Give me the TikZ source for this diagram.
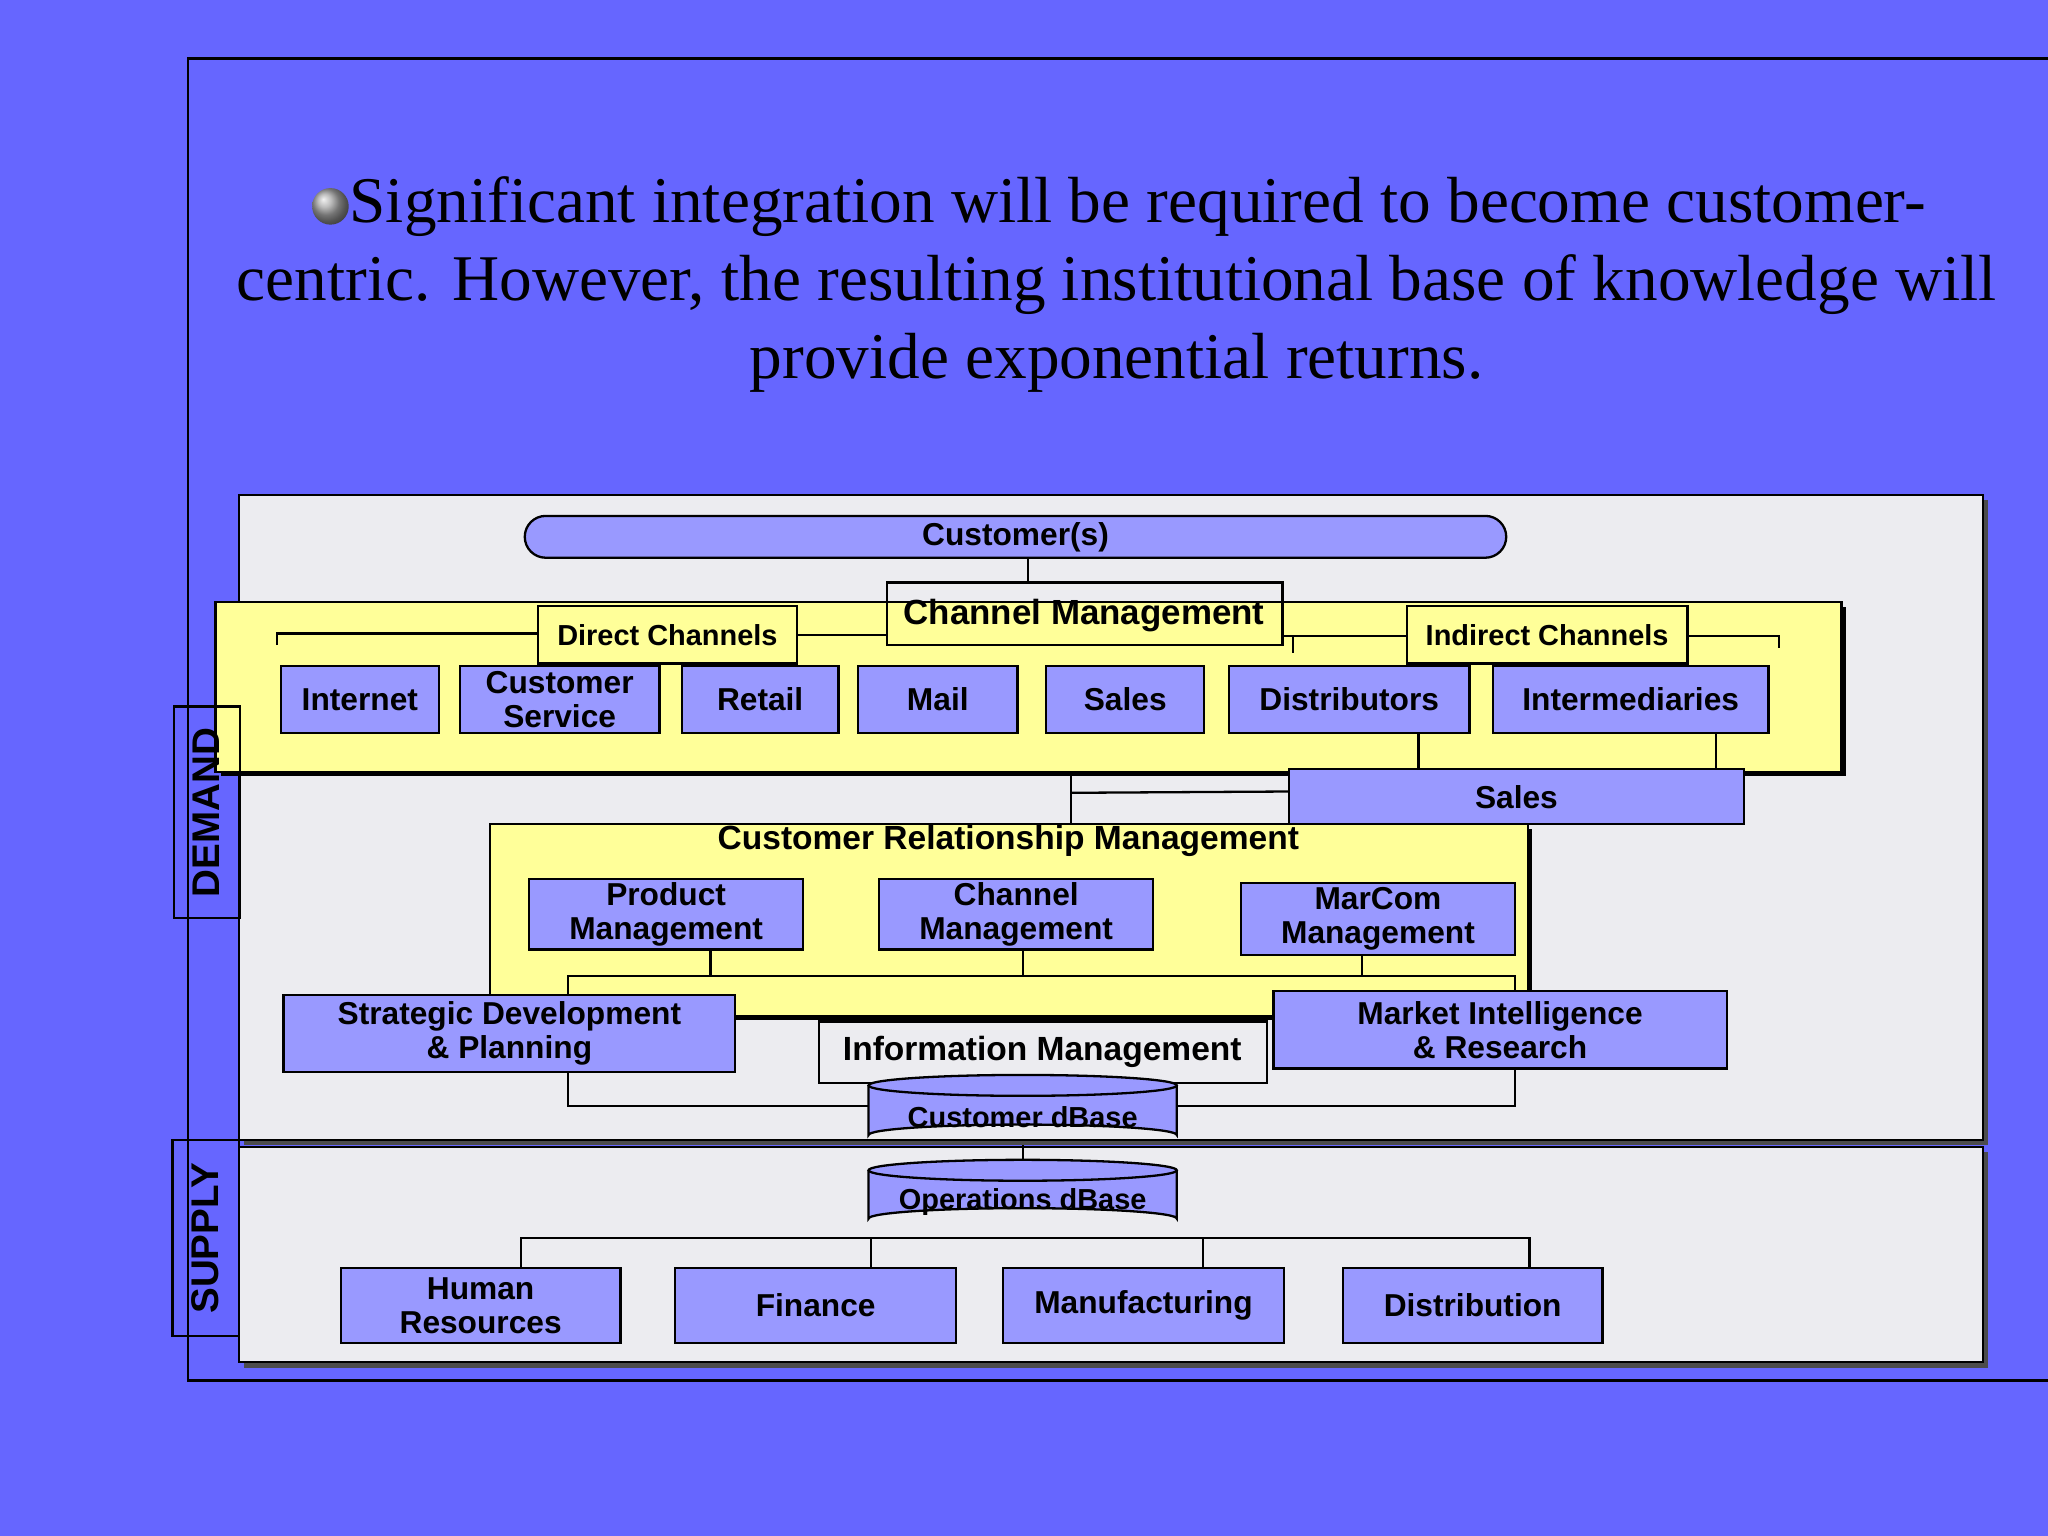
\documentclass[tikz,border=0pt]{standalone}
\usepackage{fontspec}
\setmainfont{Liberation Serif}
\newfontfamily\arial{Liberation Sans}
\definecolor{bg}{HTML}{6666FF}
\definecolor{panel}{HTML}{ECECF0}
\definecolor{yel}{HTML}{FFFF99}
\definecolor{bx}{HTML}{9999FF}
\newcommand\mybox[7]{\node[#1, minimum width={(#4-#2)*0.01cm}, minimum height={(#5-#3)*0.01cm}] (#6) at ({(#2+#4)/2},{(#3+#5)/2}) {#7};}
\begin{document}
\begin{tikzpicture}[x=0.01cm,y=-0.01cm,
  base/.style={draw=black,line width=0.5pt,inner sep=0pt,outer sep=0pt,align=center,font=\arial\bfseries\fontsize{6.9}{7.4}\selectfont},
  bb/.style={base,fill=bx},
  yb/.style={base,fill=yel},
  sm/.style={font=\arial\bfseries\fontsize{6.3}{7}\selectfont},
  tt/.style={font=\fontsize{14.2}{17}\selectfont},
  ln/.style={line width=0.5pt}]
\useasboundingbox (0,0) rectangle (1568,1176);
\fill[bg] (0,0) rectangle (1568,1176);
\draw[line width=0.6pt] (1568,45) -- (144,45) -- (144,1057) -- (1568,1057);
% title
\shade[ball color=gray!70] (253,158) circle (14);
\node[tt,anchor=west,inner sep=0pt] (t1) at (267,158) {Significant integration will be required to become customer-};
\node[tt] (t2) at (855,218) {centric. However, the resulting institutional base of knowledge will};
\node[tt] (t3) at (855,278) {provide exponential returns.};
% panels
\fill[gray!60!black] (187,383) rectangle (1522,877);
\mybox{base,fill=panel}{183}{379}{1518}{873}{dem}{}
\fill[gray!60!black] (187,882) rectangle (1522,1047);
\mybox{base,fill=panel}{183}{878}{1518}{1043}{sup}{}
% customer
\node[bb,rounded corners=16*0.01cm,minimum width=7.51cm,minimum height=0.32cm] (cust) at (777.5,411) {Customer(s)};
% yellow band
\fill[black] (169,465) rectangle (1413,594);
\mybox{yb}{165}{461}{1410}{591}{band}{}
\mybox{base}{679}{446}{982}{494}{chm}{}
\node[base,draw=none,font=\arial\bfseries\fontsize{7.6}{9}\selectfont] at (830,471) {Channel Management};
\draw[ln] (787,427) -- (787,446);
\mybox{yb,sm}{412}{464}{610}{508}{dc}{Direct Channels}
\mybox{yb,sm}{1077}{464}{1292}{508}{ic}{Indirect Channels}
\draw[ln] (212,494) -- (212,485) -- (dc.west|-0,485);
\draw[ln] (dc.east|-0,486) -- (679,486);
\draw[ln] (982,487) -- (ic.west|-0,487);
\draw[ln] (990,487) -- (990,500);
\draw[ln] (ic.east|-0,487) -- (1362,487) -- (1362,496);
\mybox{bb}{215}{510}{336}{561}{inet}{Internet}
\mybox{bb}{352}{510}{505}{561}{cs}{Customer\\Service}
\mybox{bb}{522}{510}{642}{561}{ret}{Retail}
\mybox{bb}{657}{510}{779}{561}{mail}{Mail}
\mybox{bb}{801}{510}{922}{561}{sal}{Sales}
\mybox{bb}{941}{510}{1125}{561}{dist}{Distributors}
\mybox{bb}{1143}{510}{1354}{561}{inter}{Intermediaries}
\mybox{bb}{987}{589}{1335}{631}{sales2}{Sales}
\draw[ln] (1086,561) -- (1086,589);
\draw[ln] (1314,561) -- (1314,589);
% CRM
\fill[black] (379,635) rectangle (1173,781);
\mybox{yb}{375}{631}{1170}{778}{crm}{}
\draw[ln] (820,592) -- (820,631);
\draw[ln] (820,607) -- (sales2.west|-0,606);
\node[base,draw=none,font=\arial\bfseries\fontsize{7.3}{8}\selectfont] at (772,644) {Customer Relationship Management};
\mybox{bb}{405}{673}{615}{727}{pm}{Product\\Management}
\mybox{bb}{673}{673}{883}{727}{cm}{Channel\\Management}
\mybox{bb}{950}{676}{1160}{731}{mm}{MarCom\\Management}
\draw[ln] (435,762) -- (435,747) -- (1160,747) -- (1160,760);
\draw[ln] (544,727) -- (544,747);
\draw[ln] (783,727) -- (783,747);
\draw[ln] (1043,731) -- (1043,747);
\mybox{bb}{217}{762}{563}{821}{sdp}{Strategic Development\\\& Planning}
\mybox{bb}{975}{759}{1322}{818}{mir}{Market Intelligence\\\& Research}
\mybox{base,fill=panel}{627}{782}{970}{829}{im}{}
\node[base,draw=none,font=\arial\bfseries\fontsize{7.3}{8}\selectfont] at (798,805) {Information Management};
\draw[ln] (435,821) -- (435,847) -- (665,847);
\draw[ln] (1160,818) -- (1160,847) -- (901,847);
% cylinders
\draw[ln,fill=bx] (665,831) -- (665,869) arc[start angle=180,end angle=360,x radius=118,y radius=8] -- (901,831);
\draw[ln,fill=bx] (783,831) ellipse[x radius=118,y radius=8];
\node[base,draw=none,sm] (cdb) at (783,855) {Customer dBase};
\draw[ln,fill=bx] (665,896) -- (665,933) arc[start angle=180,end angle=360,x radius=118,y radius=8] -- (901,896);
\draw[ln,fill=bx] (783,896) ellipse[x radius=118,y radius=8];
\node[base,draw=none,sm] (odb) at (783,920) {Operations dBase};
\draw[ln] (783,877) -- (783,888);
% supply
\draw[ln] (399,970) -- (399,948) -- (1171,948) -- (1171,970);
\draw[ln] (667,948) -- (667,970);
\draw[ln] (921,948) -- (921,970);
\mybox{bb}{261}{971}{475}{1028}{hr}{Human\\Resources}
\mybox{bb}{517}{971}{732}{1028}{fin}{Finance}
\mybox{bb}{768}{971}{983}{1028}{man}{Manufacturing}
\mybox{bb}{1028}{971}{1227}{1028}{distr}{Distribution}
% side labels
\mybox{base}{133}{541}{184}{703}{dl}{}
\node[base,draw=none,rotate=90,font=\arial\bfseries\fontsize{8.4}{9}\selectfont] at (158,622) {DEMAND};
\mybox{base}{132}{873}{183}{1023}{sl}{}
\node[base,draw=none,rotate=90,font=\arial\bfseries\fontsize{8.4}{9}\selectfont] at (157,948) {SUPPLY};
\end{tikzpicture}
\end{document}
